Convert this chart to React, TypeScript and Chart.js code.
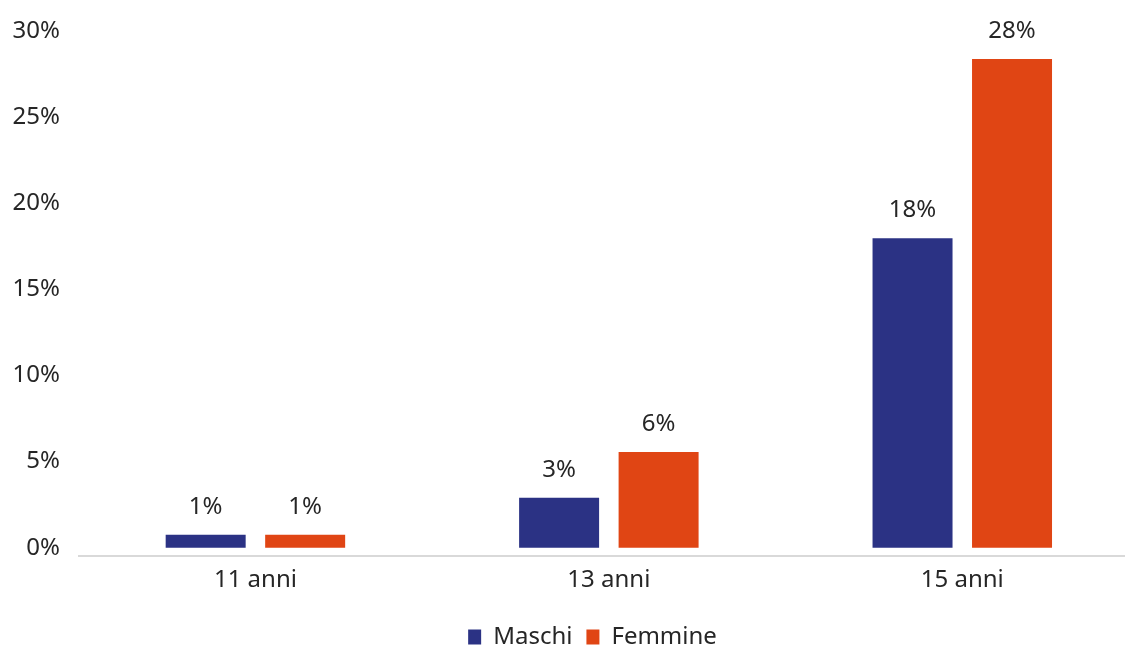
import React, { useEffect, useRef } from "react";
import { Chart, registerables } from "chart.js";

Chart.register(...registerables);

const categories = ["11 anni", "13 anni", "15 anni"];
const maschiValues = [0.75, 2.9, 17.97];
const femmineValues = [0.75, 5.56, 28.38];
const yTickValues = [0, 5, 10, 15, 20, 25, 30];

const FONT = "'Noto Sans', sans-serif";
const TEXT = "#262626";
const CANVAS_W = 1160;
const CANVAS_H = 700;
const AXIS_Y = 555.7;
const LEGEND_PAD = 14;
const LEGEND_TEXT_Y = 637;

const dataLabelPlugin = {
  id: "dataLabels",
  afterDatasetsDraw(chart: any) {
    const ctx = chart.ctx;
    ctx.save();
    ctx.font = `24px ${FONT}`;
    ctx.fillStyle = TEXT;
    ctx.textAlign = "center";
    ctx.textBaseline = "middle";
    chart.data.datasets.forEach((ds: any, i: number) => {
      const meta = chart.getDatasetMeta(i);
      meta.data.forEach((bar: any, j: number) => {
        const v = ds.data[j];
        ctx.fillText(`${Math.round(v)}%`, bar.x, bar.y - 28);
      });
    });
    ctx.restore();
  },
};

const legendShiftPlugin = {
  id: "legendShift",
  afterLayout(chart: any) {
    const lg = chart.legend;
    if (lg) {
      const h = lg.height;
      lg.left += 23;
      lg.right += 23;
      lg.top = LEGEND_TEXT_Y - LEGEND_PAD - 12;
      lg.bottom = lg.top + h;
    }
  },
};

export default function App() {
  const ref = useRef<HTMLCanvasElement>(null);
  useEffect(() => {
    if (!ref.current) return;
    const chart = new Chart(ref.current, {
      type: "bar",
      data: {
        labels: categories,
        datasets: [
          {
            label: "Maschi",
            data: maschiValues,
            backgroundColor: "#2b3284",
            borderWidth: 0,
            barPercentage: 0.804,
            categoryPercentage: 0.563,
          },
          {
            label: "Femmine",
            data: femmineValues,
            backgroundColor: "#e04514",
            borderWidth: 0,
            barPercentage: 0.804,
            categoryPercentage: 0.563,
          },
        ],
      },
      options: {
        responsive: false,
        animation: false,
        devicePixelRatio: 1,
        layout: { padding: { left: 0, right: 21, top: 31, bottom: 0 } },
        plugins: {
          legend: {
            position: "bottom",
            labels: {
              font: { family: FONT, size: 24 },
              color: TEXT,
              boxWidth: 13,
              boxHeight: 15,
              padding: LEGEND_PAD,
            },
          },
          tooltip: { enabled: false },
        },
        scales: {
          x: {
            grid: { display: false },
            border: { display: true, color: "#d9d9d9", width: 2 },
            ticks: {
              font: { family: FONT, size: 24 },
              color: TEXT,
              padding: 2,
            },
            afterFit(axis: any) {
              const lh = axis.chart.legend ? axis.chart.legend.height : 0;
              axis.height = CANVAS_H - lh - AXIS_Y;
            },
          },
          y: {
            min: -0.46,
            max: 30,
            grid: { display: false },
            border: { display: false },
            afterBuildTicks(axis: any) {
              axis.ticks = yTickValues.map((v) => ({ value: v }));
            },
            afterFit(axis: any) {
              axis.width = 78.7;
            },
            ticks: {
              font: { family: FONT, size: 24 },
              color: TEXT,
              padding: 10.7,
              callback: (v: any) => `${v}%`,
            },
          },
        },
      },
      plugins: [dataLabelPlugin, legendShiftPlugin],
    });
    return () => chart.destroy();
  }, []);
  return (
    <div
      style={{
        position: "fixed",
        left: 0,
        top: 0,
        width: 1125,
        height: 648,
        overflow: "hidden",
        background: "#fff",
      }}
    >
      <canvas
        ref={ref}
        width={CANVAS_W}
        height={CANVAS_H}
        style={{ position: "absolute", left: 0, top: 0, width: CANVAS_W, height: CANVAS_H }}
      />
    </div>
  );
}
